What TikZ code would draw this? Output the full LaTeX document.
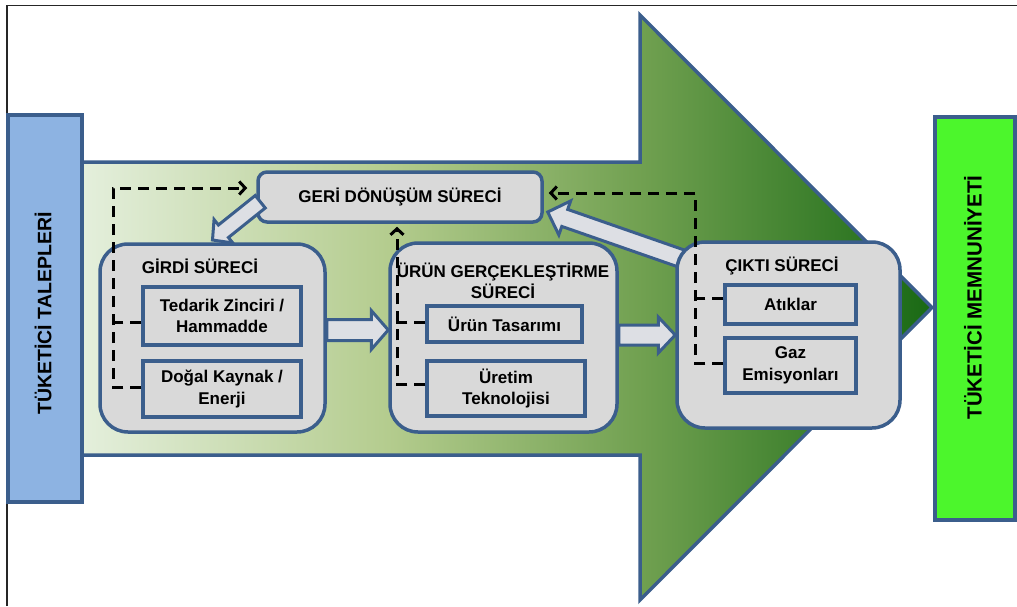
\documentclass[tikz,border=0pt]{standalone}
\usepackage{fontspec}
\setmainfont{Liberation Sans}
\usetikzlibrary{arrows.meta,calc}
\definecolor{frameblue}{RGB}{59, 94, 140}
\definecolor{boxgray}{RGB}{217, 217, 217}
\definecolor{arrowgray}{RGB}{221, 223, 228}
\definecolor{demandblue}{RGB}{141, 179, 226}
\definecolor{satisfygreen}{RGB}{76, 246, 44}
\definecolor{flowA}{RGB}{228, 239, 220}
\definecolor{flowB}{RGB}{180, 204, 142}
\definecolor{flowC}{RGB}{112, 160, 80}
\definecolor{flowD}{RGB}{25, 105, 20}
\pgfdeclarehorizontalshading{greenflow}{100bp}{color(0bp)=(flowA); color(25bp)=(flowA);
  color(43bp)=(flowB); color(58bp)=(flowC); color(75bp)=(flowD); color(100bp)=(flowD)}
\newcommand{\labelfont}{\bfseries\fontsize{17}{21.5}\selectfont}
% hollow block arrow: {shaft half width}{head half width}{head length}{from}{to}
\newcommand{\hollowarrow}[5]{%
  \coordinate (ha) at ($(#5)!#3!(#4)$);
  \filldraw[blockarrow] ($(#4)!#1!90:(#5)$) -- ($(ha)!#1!90:(#5)$) -- ($(ha)!#2!90:(#5)$)
    -- (#5) -- ($(ha)!#2!-90:(#5)$) -- ($(ha)!#1!-90:(#5)$) -- ($(#4)!#1!-90:(#5)$) -- cycle;}
\tikzset{
  process/.style={draw=frameblue, fill=boxgray, line width=3.5pt, rounded corners=28pt},
  task/.style={draw=frameblue, fill=boxgray, line width=3.5pt, align=center, font=\labelfont, inner sep=0pt},
  heading/.style={font=\labelfont, align=center, inner sep=0pt},
  sidebar/.style={draw=frameblue, line width=4pt, inner sep=0pt},
  sidetext/.style={rotate=90, font=\bfseries\fontsize{#1}{24}\selectfont, inner sep=0pt},
  recycle/.style={line width=3pt, dash pattern=on 11pt off 7pt, -{Straight Barb[length=6pt,width=13pt]}},
  blockarrow/.style={draw=frameblue, fill=arrowgray, line width=3pt, line join=miter}
}
\begin{document}
\begin{tikzpicture}[x=1pt, y=-1pt]
  \useasboundingbox (0,0) rectangle (1017,606);
  \draw[line width=1.8pt, black!85] (7,606) -- (7,5.5) -- (1017,5.5);
  % main flow arrow
  \shadedraw[shading=greenflow, draw=frameblue, line width=3.5pt, line join=miter]
    (82,162) -- (640,162) -- (640,15) -- (932,307.5) -- (640,600) -- (640,455) -- (82,455) -- cycle;
  % side bars
  \node[sidebar, fill=demandblue, minimum width=74pt, minimum height=387pt] (talep) at (45,308.5) {};
  \node[sidetext=19.5] (taleptext) at (43,313.5) {TÜKETİCİ TALEPLERİ};
  \node[sidebar, fill=satisfygreen, minimum width=80pt, minimum height=403pt] (memnun) at (975,318.5) {};
  \node[sidetext=20.5] (memnuntext) at (973,297.5) {TÜKETİCİ MEMNUNİYETİ};
  % process boxes
  \node[task, rounded corners=9pt, minimum width=284pt, minimum height=50pt] (geri) at (400,197) {GERİ DÖNÜŞÜM SÜRECİ};
  \coordinate (girdi-n) at (212.5,244);
  \coordinate (cikti-nw) at (677,242);
  \hollowarrow{8pt}{15pt}{14pt}{$(geri.south west)+(4,-22)$}{$(girdi-n)+(0,-4)$}
  \hollowarrow{9pt}{18pt}{18pt}{$(cikti-nw)+(23,23)$}{$(geri.east)+(4,15)$}
  \node[process, minimum width=225pt, minimum height=188pt] (girdi) at (212.5,338) {};
  \node[process, minimum width=227pt, minimum height=189pt] (urun) at (503.5,337.5) {};
  \node[process, minimum width=223pt, minimum height=186pt] (cikti) at (788.5,335) {};
  \hollowarrow{10.5pt}{19.5pt}{17pt}{$(girdi.east)+(0,-8)$}{$(urun.west)+(0,-7.5)$}
  \hollowarrow{10pt}{18pt}{17pt}{$(urun.east)+(0,-2.5)$}{cikti.west}
  \node[heading] (girditext) at (200,266) {GİRDİ SÜRECİ};
  \node[heading] (uruntext) at (503,281) {ÜRÜN GERÇEKLEŞTİRME\\SÜRECİ};
  \node[heading] (ciktitext) at (782,266) {ÇIKTI SÜRECİ};
  \node[task, minimum width=158pt, minimum height=58pt] (tedarik) at (222,316) {Tedarik Zinciri /\\Hammadde};
  \node[task, minimum width=158pt, minimum height=56pt] (dogal) at (222,389) {Doğal Kaynak /\\Enerji};
  \node[task, minimum width=155pt, minimum height=36pt] (tasarim) at (504.5,324) {Ürün Tasarımı};
  \node[task, minimum width=158pt, minimum height=55pt] (uretim) at (506,388.5) {Üretim\\Teknolojisi};
  \node[task, minimum width=131pt, minimum height=39pt] (atiklar) at (790.5,304.5) {Atıklar};
  \node[task, minimum width=131pt, minimum height=55pt] (gaz) at (790.5,365.5) {Gaz\\Emisyonları};
  % recycling feedback
  \draw[recycle] ([yshift=2pt]dogal.west) -- ++(-28,0) |- ([xshift=-9pt,yshift=9pt]geri.west);
  \draw[recycle, -] ([yshift=-6pt]tedarik.west) -- ++(-28,0);
  \draw[recycle] ([yshift=4.5pt]uretim.west) -| ([xshift=-3pt,yshift=-3pt]geri.south);
  \draw[recycle, -] ([yshift=2pt]tasarim.west) -- ++(-30,0);
  \draw[recycle] ([yshift=2.5pt]gaz.west) -- ++(-28,0) |- ([xshift=5pt,yshift=4pt]geri.east);
  \draw[recycle, -] ([yshift=6.5pt]atiklar.west) -- ++(-28,0);
\end{tikzpicture}
\end{document}
